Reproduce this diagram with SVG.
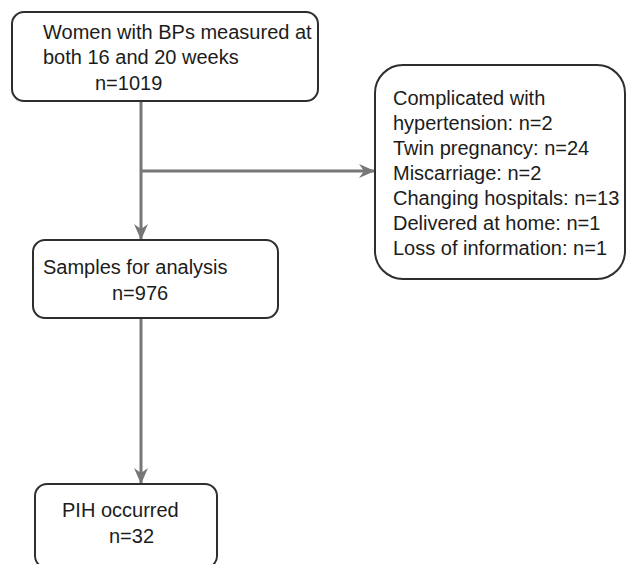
<svg xmlns="http://www.w3.org/2000/svg" width="627" height="564" viewBox="0 0 627 564">
<style>
.box{fill:#fff;stroke:#2e2e2e;stroke-width:2}
.conn{fill:none;stroke:#777;stroke-width:3}
text{font-family:"Liberation Sans",Arial,sans-serif;font-size:20px;fill:#1c1c1c}
</style>
<defs>
<marker id="arr" markerUnits="userSpaceOnUse" viewBox="0 0 16 16" refX="15" refY="8" markerWidth="16" markerHeight="16" orient="auto">
<path d="M0,1 L16,8 L0,15 L5,8 Z" fill="#777"/>
</marker>
</defs>
<rect width="627" height="564" fill="#fff"/>
<g id="connectors">
<path class="conn" d="M141,101 V239" marker-end="url(#arr)"/>
<path class="conn" d="M141,171 H374" marker-end="url(#arr)"/>
<path class="conn" d="M141,318 V483" marker-end="url(#arr)"/>
</g>
<g id="node-women">
<rect class="box" x="12" y="12" width="306" height="89" rx="12"/>
<text x="43" y="39">Women with BPs measured at</text>
<text x="43" y="64">both 16 and 20 weeks</text>
<text x="95" y="90">n=1019</text>
</g>
<g id="node-excluded">
<rect class="box" x="375" y="65" width="250" height="214" rx="28"/>
<text x="393" y="105">Complicated with</text>
<text x="393" y="130">hypertension: n=2</text>
<text x="393" y="155">Twin pregnancy: n=24</text>
<text x="393" y="180">Miscarriage: n=2</text>
<text x="393" y="205">Changing hospitals: n=13</text>
<text x="393" y="230">Delivered at home: n=1</text>
<text x="393" y="255">Loss of information: n=1</text>
</g>
<g id="node-samples">
<rect class="box" x="33" y="240" width="245" height="78" rx="12"/>
<text x="43" y="274">Samples for analysis</text>
<text x="112" y="300">n=976</text>
</g>
<g id="node-pih">
<rect class="box" x="35" y="484" width="182" height="84" rx="12"/>
<text x="62" y="517">PIH occurred</text>
<text x="109" y="543">n=32</text>
</g>
</svg>
